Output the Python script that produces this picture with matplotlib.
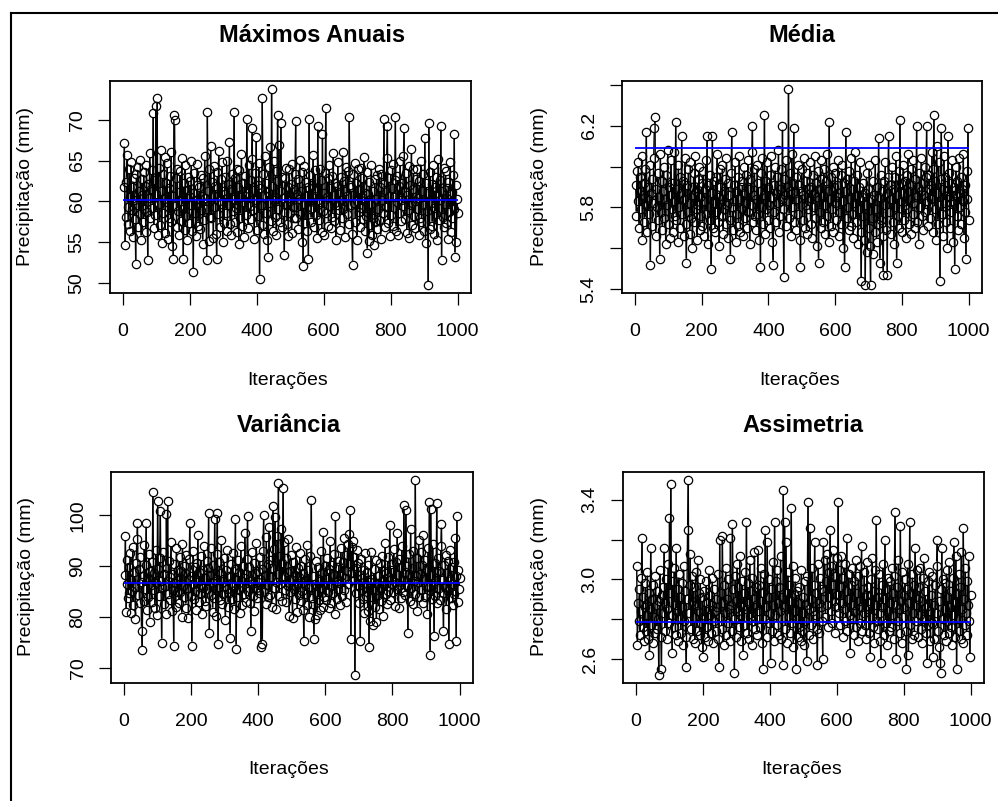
import numpy as np
import matplotlib
matplotlib.use('Agg')
import matplotlib.pyplot as plt
from matplotlib.lines import Line2D
from matplotlib.collections import LineCollection

plt.rcParams['font.family'] = ['Liberation Sans', 'DejaVu Sans']

# ---------------- data (one value every 2 iterations) ----------------
max_anuais = [
61.8, 67.2, 54.6, 58.1, 62.4, 65.7, 59.3, 57.2, 63.9, 60.5, 56.4, 64.8, 58.9, 61.7, 55.6, 62.9, 60.1, 57.8, 52.3, 63.4,
59.6, 64.2, 56.9, 61.3, 58.4, 65.1, 55.3, 60.8, 62.7, 57.5, 63.6, 59.0, 61.9, 56.2, 64.5, 58.7, 52.8, 62.1, 60.4, 65.9,
57.9, 61.5, 63.8, 59.2, 70.8, 56.7, 62.6, 58.3, 71.7, 60.9, 72.7, 55.8, 64.1, 59.7, 57.1, 66.3, 61.2, 54.9, 63.3, 58.6,
60.3, 65.4, 56.1, 62.2, 59.9, 64.7, 55.4, 61.6, 58.0, 63.1, 57.4, 66.0, 54.5, 60.7, 52.9, 70.6, 70.0, 59.4, 62.8, 56.8,
64.0, 58.8, 61.1, 55.9, 63.7, 60.0, 57.6, 65.3, 59.1, 52.9, 62.3, 56.5, 64.4, 58.2, 61.4, 55.2, 63.0, 60.6, 57.3, 62.5,
59.5, 64.9, 56.3, 61.0, 51.3, 63.5, 58.5, 60.2, 55.7, 62.0, 64.6, 57.0, 59.8, 61.8, 56.6, 63.2, 58.9, 60.7, 54.8, 62.9,
57.7, 65.6, 60.4, 59.0, 52.8, 70.9, 61.3, 55.1, 63.9, 58.1, 66.8, 57.9, 62.4, 60.8, 55.5, 64.3, 59.3, 61.9, 56.0, 52.9,
63.6, 58.4, 66.2, 60.0, 56.9, 62.7, 59.7, 64.8, 55.0, 61.2, 57.3, 63.0, 60.9, 58.6, 65.0, 56.4, 62.1, 59.6, 67.3, 57.2,
61.5, 55.8, 63.4, 58.8, 60.3, 70.9, 57.5, 62.9, 59.2, 64.0, 56.2, 61.7, 54.7, 63.8, 58.0, 60.5, 65.8, 57.0, 62.2, 59.9,
55.6, 63.1, 60.6, 58.3, 70.1, 61.0, 56.7, 64.5, 59.4, 62.6, 57.8, 65.2, 69.0, 58.9, 61.4, 55.4, 63.5, 60.1, 67.9, 56.5,
62.0, 58.2, 64.7, 50.5, 61.6, 59.5, 57.1, 72.7, 63.3, 56.0, 60.8, 65.5, 58.6, 62.3, 55.3, 61.1, 53.2, 64.2, 59.8, 66.6,
57.6, 73.8, 61.9, 56.3, 64.9, 60.2, 58.1, 63.7, 55.9, 62.5, 70.6, 59.1, 66.9, 57.4, 61.3, 69.6, 56.8, 63.0, 60.4, 58.7,
53.4, 62.8, 59.6, 64.1, 57.2, 61.8, 55.7, 63.9, 60.0, 58.5, 62.1, 56.1, 64.6, 59.3, 61.5, 57.9, 63.4, 69.9, 58.0, 60.9,
62.7, 56.6, 60.3, 65.1, 58.4, 61.2, 55.0, 63.6, 52.0, 59.7, 64.3, 57.3, 62.4, 60.6, 56.4, 61.7, 52.9, 70.1, 59.0, 63.2,
57.5, 62.0, 59.2, 65.7, 56.9, 60.7, 63.8, 58.3, 61.4, 55.5, 69.3, 60.1, 57.7, 64.0, 59.9, 62.6, 56.2, 68.3, 58.8, 61.0,
55.8, 63.5, 71.4, 58.6, 60.5, 62.9, 57.0, 64.4, 59.4, 61.6, 56.7, 63.1, 58.1, 65.9, 60.8, 57.6, 62.3, 55.2, 61.9, 59.6,
64.8, 58.9, 61.1, 56.5, 63.0, 60.2, 57.9, 66.1, 59.1, 62.5, 55.6, 61.3, 64.2, 58.4, 60.6, 63.7, 57.2, 70.3, 62.0, 59.5,
61.8, 56.0, 52.2, 63.3, 59.8, 64.7, 57.4, 62.2, 60.0, 55.3, 63.9, 58.7, 61.5, 56.8, 64.1, 59.2, 62.8, 57.8, 60.4, 65.4,
56.3, 61.0, 58.2, 63.6, 53.7, 60.9, 55.1, 62.4, 57.1, 59.7, 64.5, 55.9, 61.2, 58.0, 54.6, 62.7, 57.5, 60.3, 63.2, 56.6,
59.0, 64.0, 57.7, 61.7, 55.4, 63.4, 60.1, 58.5, 62.1, 70.1, 56.9, 61.4, 59.3, 65.3, 69.3, 57.3, 62.9, 60.7, 55.7, 63.8,
58.3, 61.6, 64.6, 57.0, 60.5, 62.6, 70.3, 56.4, 59.9, 63.1, 55.9, 61.9, 58.6, 64.9, 60.2, 57.6, 62.3, 59.4, 65.6, 69.0,
57.8, 61.1, 63.5, 56.1, 60.8, 58.9, 64.3, 55.5, 62.0, 59.6, 66.4, 57.1, 61.5, 63.9, 58.2, 60.0, 56.7, 62.7, 59.1, 64.0,
60.4, 55.8, 62.5, 58.0, 65.0, 57.4, 61.2, 63.3, 56.3, 59.5, 67.8, 54.9, 62.2, 58.8, 61.0, 49.7, 69.6, 56.6, 63.6, 59.8,
62.1, 57.0, 64.4, 59.2, 56.0, 61.8, 58.4, 63.0, 55.2, 60.6, 65.2, 57.7, 62.6, 60.1, 69.3, 52.8, 61.3, 58.1, 64.1, 56.8,
59.7, 63.7, 57.3, 61.6, 55.4, 62.4, 58.7, 60.9, 64.8, 56.2, 61.1, 57.9, 63.2, 59.0, 68.2, 53.2, 62.0, 55.0, 60.3, 58.5,
]

media = [
5.91, 5.76, 5.98, 5.83, 6.02, 5.70, 5.88, 5.95, 5.79, 6.05, 5.64, 5.86, 5.92, 5.73, 5.99, 5.81, 6.17, 5.68, 5.90, 5.84,
5.77, 6.01, 5.52, 5.87, 5.94, 5.71, 5.82, 6.04, 6.19, 6.24, 5.66, 5.89, 5.80, 5.97, 5.74, 5.85, 5.55, 6.06, 5.78, 5.93,
5.69, 5.88, 6.00, 5.75, 5.84, 5.62, 5.96, 5.81, 6.08, 5.72, 5.90, 5.65, 5.86, 6.03, 5.79, 5.92, 5.68, 5.83, 6.07, 5.76,
6.22, 5.74, 5.89, 5.63, 6.01, 5.80, 5.95, 5.70, 5.87, 6.15, 5.77, 5.93, 5.66, 5.84, 6.04, 5.72, 5.53, 5.91, 5.78, 5.99,
5.82, 5.67, 6.02, 5.75, 5.90, 5.60, 5.86, 5.97, 5.73, 6.05, 5.79, 5.88, 5.64, 5.94, 5.81, 6.00, 5.69, 5.85, 5.76, 5.92,
5.71, 5.98, 5.83, 5.66, 5.89, 6.03, 5.77, 6.15, 5.62, 5.91, 5.80, 5.74, 5.96, 5.50, 5.87, 6.15, 5.70, 5.93, 5.82, 5.68,
5.95, 5.78, 6.06, 5.73, 5.85, 5.61, 5.90, 5.99, 5.76, 5.84, 6.01, 5.67, 5.88, 5.79, 5.94, 5.72, 6.04, 5.81, 5.65, 5.92,
5.86, 5.74, 5.55, 5.97, 6.17, 5.80, 5.69, 5.91, 5.83, 6.02, 5.63, 5.88, 5.77, 5.95, 5.71, 6.05, 5.84, 5.68, 5.90, 5.79,
5.93, 5.66, 5.87, 6.00, 5.75, 5.82, 5.96, 5.70, 6.03, 5.78, 5.89, 5.62, 5.94, 5.81, 6.07, 6.20, 5.73, 5.86, 5.99, 5.76,
5.84, 5.69, 6.01, 5.77, 5.92, 5.64, 5.88, 5.51, 5.97, 5.80, 6.04, 5.72, 5.86, 6.25, 5.67, 5.93, 5.79, 6.02, 5.74, 5.90,
5.81, 5.96, 5.70, 6.05, 5.85, 5.63, 5.52, 5.91, 5.78, 6.00, 5.87, 5.73, 5.95, 5.82, 6.08, 5.68, 5.89, 5.76, 5.99, 5.84,
6.20, 5.79, 5.46, 5.94, 5.86, 6.03, 5.71, 5.90, 5.83, 6.38, 5.75, 5.97, 5.88, 5.66, 6.06, 5.80, 5.92, 6.19, 5.73, 5.87,
5.95, 5.69, 5.84, 6.01, 5.77, 5.91, 5.64, 5.51, 5.88, 5.99, 5.74, 5.86, 6.04, 5.70, 5.93, 5.81, 5.67, 5.97, 5.79, 5.89,
5.83, 6.02, 5.72, 5.90, 5.65, 5.96, 5.80, 5.87, 6.05, 5.75, 5.92, 5.61, 5.85, 5.98, 5.53, 5.89, 5.78, 6.03, 5.70, 5.94,
5.86, 5.73, 5.99, 5.81, 5.67, 5.93, 6.06, 5.76, 5.88, 5.63, 6.22, 5.84, 5.71, 5.95, 5.79, 6.00, 5.68, 5.90, 5.82, 5.97,
5.74, 5.91, 5.85, 6.03, 5.66, 5.87, 5.78, 5.96, 5.72, 6.01, 5.83, 5.60, 5.92, 5.51, 5.88, 6.17, 5.75, 5.94, 5.80, 5.69,
5.98, 5.84, 5.71, 6.04, 5.77, 5.89, 5.65, 5.93, 5.82, 6.07, 5.73, 5.86, 5.96, 5.62, 5.90, 5.79, 6.02, 5.68, 5.44, 5.85,
5.76, 5.92, 5.64, 5.87, 5.42, 5.81, 5.97, 5.58, 5.89, 5.70, 6.01, 5.61, 5.42, 5.84, 5.75, 5.93, 5.57, 5.86, 5.68, 6.03,
5.79, 5.63, 5.90, 5.72, 6.14, 5.85, 5.53, 5.96, 5.74, 5.88, 5.66, 5.47, 5.93, 5.81, 6.02, 5.69, 5.87, 5.47, 5.95, 6.15,
5.78, 5.91, 5.67, 5.84, 6.00, 5.73, 5.89, 5.62, 5.95, 5.80, 6.05, 5.53, 5.86, 5.76, 5.98, 5.70, 6.23, 5.83, 5.92, 5.68,
5.87, 6.01, 5.74, 5.93, 5.81, 5.65, 5.96, 5.79, 6.06, 5.72, 5.88, 5.84, 5.99, 5.67, 5.91, 5.77, 6.03, 5.82, 5.70, 5.94,
5.85, 6.20, 5.73, 5.90, 5.62, 5.97, 5.80, 5.88, 6.04, 5.76, 5.92, 5.69, 5.86, 6.00, 5.78, 5.95, 6.20, 5.83, 5.71, 5.89,
5.96, 5.75, 5.91, 5.84, 6.07, 5.68, 5.99, 6.25, 5.79, 5.93, 5.64, 6.10, 5.87, 5.72, 6.02, 5.81, 5.44, 5.94, 6.19, 5.77,
5.89, 5.66, 6.05, 5.82, 5.95, 5.73, 5.88, 5.60, 6.15, 5.85, 5.97, 5.70, 5.92, 5.78, 6.03, 5.83, 5.63, 5.90, 5.50, 5.86,
6.00, 5.76, 5.93, 5.69, 5.87, 6.04, 5.80, 5.95, 5.72, 5.89, 5.83, 6.06, 5.65, 5.91, 5.78, 5.55, 5.98, 5.84, 6.19, 5.74,
]

variancia = [
88.2, 95.9, 81.0, 86.5, 91.3, 83.7, 89.9, 84.8, 92.6, 80.9, 87.4, 85.1, 93.8, 82.3, 88.9, 86.0, 79.6, 90.7, 95.4, 98.6,
84.4, 89.5, 82.8, 91.9, 86.9, 77.3, 73.5, 88.0, 83.2, 94.1, 85.6, 90.2, 98.6, 81.5, 87.8, 84.0, 92.4, 79.1, 89.1, 86.3,
83.0, 90.8, 104.6, 85.4, 88.6, 81.8, 93.2, 86.7, 80.4, 102.8, 89.4, 84.2, 91.6, 100.8, 87.1, 75.0, 85.9, 92.9, 82.5, 88.4,
86.1, 80.7, 100.3, 89.7, 102.8, 84.6, 91.0, 83.4, 87.9, 94.7, 81.2, 88.5, 85.3, 74.4, 90.4, 86.8, 82.0, 93.5, 84.9, 89.2,
87.3, 82.7, 91.8, 85.0, 89.0, 80.1, 94.4, 86.2, 83.9, 90.1, 88.7, 81.9, 92.2, 85.7, 87.6, 79.8, 91.4, 98.6, 84.1, 88.1,
74.4, 86.6, 93.0, 83.6, 89.8, 85.2, 81.4, 90.6, 87.0, 96.2, 82.9, 88.8, 84.7, 92.0, 86.4, 80.6, 89.3, 85.8, 94.0, 83.1,
87.7, 82.2, 91.1, 85.5, 89.6, 100.5, 76.8, 88.3, 84.3, 93.6, 86.9, 81.1, 90.3, 83.8, 99.3, 87.2, 80.3, 92.5, 100.5, 74.7,
85.9, 90.9, 83.3, 88.7, 95.1, 82.6, 87.5, 84.5, 91.7, 86.1, 79.4, 89.2, 85.6, 93.3, 82.1, 88.0, 84.8, 76.0, 90.5, 86.7,
83.5, 92.7, 86.4, 81.7, 89.4, 99.3, 73.8, 87.3, 84.0, 91.2, 85.4, 88.9, 80.8, 93.9, 86.0, 82.4, 90.0, 87.8, 84.6, 96.6,
88.4, 83.0, 91.5, 99.9, 85.2, 89.9, 82.8, 87.1, 77.3, 92.8, 86.5, 84.2, 90.7, 81.3, 88.6, 85.7, 94.5, 83.7, 89.0, 86.9,
84.7, 91.9, 87.6, 74.2, 89.5, 74.8, 93.1, 100.1, 85.0, 88.2, 82.5, 95.7, 86.3, 90.4, 83.9, 97.8, 84.4, 91.3, 87.9, 82.0,
89.6, 101.8, 85.8, 93.4, 99.6, 87.0, 81.6, 96.0, 88.5, 106.4, 84.1, 92.1, 86.6, 97.3, 83.2, 90.6, 105.3, 88.0, 94.8, 85.3,
91.6, 82.9, 88.8, 86.2, 95.3, 80.2, 89.1, 84.9, 92.3, 87.4, 79.9, 90.8, 85.5, 88.3, 83.6, 93.7, 86.8, 81.0, 89.7, 84.3,
87.9, 92.6, 83.1, 90.0, 85.1, 88.6, 81.5, 75.3, 91.4, 86.3, 84.5, 94.2, 82.3, 89.3, 86.0, 80.0, 92.0, 85.9, 103.1, 83.8,
88.1, 82.6, 75.8, 86.6, 79.7, 91.1, 84.6, 80.5, 89.8, 83.3, 87.2, 81.4, 93.0, 85.7, 88.9, 82.1, 96.8, 84.0, 90.1, 86.4,
83.4, 91.7, 87.5, 85.0, 89.4, 81.8, 94.9, 86.1, 82.7, 90.3, 88.4, 84.8, 92.4, 80.7, 99.9, 87.0, 83.5, 89.9, 85.6, 91.0,
86.8, 82.4, 93.5, 88.0, 84.2, 90.9, 85.3, 95.6, 87.7, 83.0, 92.2, 89.1, 94.3, 86.5, 96.4, 90.5, 101.1, 75.7, 93.8, 88.6,
95.0, 87.3, 91.9, 68.6, 89.6, 84.7, 93.2, 86.2, 90.7, 82.8, 88.3, 75.3, 91.5, 85.4, 87.8, 83.6, 89.2, 80.9, 92.7, 86.0,
84.1, 88.8, 81.2, 90.2, 74.1, 86.9, 79.3, 92.9, 83.9, 87.6, 78.5, 89.5, 85.2, 82.0, 91.3, 79.0, 86.7, 84.4, 88.1, 81.7,
90.6, 85.8, 83.1, 92.1, 87.2, 80.3, 89.0, 86.3, 94.6, 84.6, 88.7, 82.5, 91.8, 85.1, 87.9, 98.2, 83.4, 90.4, 86.6, 89.3,
84.9, 93.4, 87.0, 82.2, 90.8, 85.6, 96.5, 88.2, 81.9, 91.4, 86.4, 89.8, 83.7, 94.0, 87.4, 85.0, 102.1, 88.9, 84.3, 101.1,
90.0, 86.1, 76.8, 92.5, 88.4, 83.2, 97.4, 85.7, 89.7, 82.6, 93.1, 87.1, 84.5, 107.0, 88.0, 91.6, 81.3, 86.9, 95.2, 83.9,
88.5, 92.8, 85.4, 90.3, 82.7, 96.1, 87.6, 84.0, 91.2, 86.2, 89.4, 80.6, 93.6, 85.9, 102.7, 72.6, 101.2, 88.3, 83.5, 94.3,
86.4, 76.3, 90.6, 84.2, 88.8, 102.4, 82.8, 91.7, 85.8, 89.1, 83.3, 93.9, 98.4, 87.3, 84.7, 77.3, 90.2, 86.0, 92.3, 81.6,
88.7, 85.2, 91.0, 74.7, 87.5, 93.2, 83.8, 89.9, 86.5, 82.3, 90.9, 84.6, 95.5, 88.0, 75.3, 99.9, 83.0, 89.2, 85.5, 87.7,
]

assimetria = [
3.07, 2.67, 2.88, 2.79, 2.95, 2.72, 2.84, 3.01, 3.21, 2.76, 2.91, 2.69, 2.86, 2.98, 2.74, 2.82, 3.04, 2.70, 2.93, 2.62,
2.85, 3.16, 2.77, 2.90, 2.68, 2.97, 2.81, 2.73, 3.02, 2.87, 2.75, 2.94, 2.80, 2.52, 2.89, 3.05, 2.71, 2.55, 2.92, 2.83,
2.96, 3.16, 2.74, 2.88, 3.00, 2.70, 2.85, 3.08, 2.78, 3.31, 2.93, 3.48, 2.82, 2.63, 2.99, 2.76, 3.06, 2.87, 2.72, 3.16,
2.84, 2.95, 2.69, 3.03, 2.80, 2.91, 2.73, 2.98, 2.86, 2.67, 3.07, 2.79, 2.94, 2.71, 2.56, 2.90, 3.25, 3.50, 2.83, 2.97,
3.13, 2.75, 2.89, 3.02, 2.70, 2.96, 2.81, 2.68, 3.04, 2.87, 2.74, 3.10, 2.84, 2.93, 2.72, 3.00, 2.78, 2.66, 2.91, 2.61,
2.80, 2.94, 2.71, 2.88, 2.99, 2.76, 2.85, 2.69, 3.05, 2.82, 2.92, 2.73, 2.87, 3.01, 2.68, 2.79, 2.95, 2.84, 2.74, 2.90,
2.86, 3.03, 2.70, 2.56, 3.20, 2.81, 2.93, 2.75, 3.22, 2.88, 2.67, 2.97, 2.83, 3.06, 2.72, 2.90, 2.78, 3.00, 2.85, 2.69,
3.21, 2.87, 2.74, 3.28, 2.95, 2.80, 2.53, 3.02, 2.89, 2.71, 3.08, 2.84, 2.96, 2.76, 3.12, 2.82, 2.69, 2.99, 2.86, 2.62,
2.93, 2.77, 3.04, 2.85, 3.29, 2.73, 2.98, 2.88, 2.70, 3.10, 2.81, 2.94, 2.67, 3.01, 2.79, 2.90, 3.14, 2.75, 2.87, 2.96,
2.72, 3.15, 2.84, 2.97, 2.76, 3.06, 2.89, 2.68, 2.93, 2.55, 3.03, 2.80, 3.25, 2.86, 2.71, 3.19, 2.91, 2.78, 3.00, 2.83,
2.58, 2.95, 2.74, 3.09, 2.87, 2.69, 3.29, 2.82, 2.99, 2.77, 3.05, 2.88, 2.72, 2.96, 2.84, 3.12, 2.70, 2.91, 2.57, 3.45,
2.86, 3.29, 2.75, 3.19, 2.93, 2.68, 3.04, 2.81, 2.97, 2.73, 2.89, 3.36, 2.78, 3.07, 2.66, 2.92, 2.84, 3.01, 2.55, 2.94,
2.80, 2.71, 2.96, 2.76, 2.88, 2.69, 3.05, 2.74, 2.91, 2.83, 2.67, 2.99, 2.79, 2.87, 2.59, 3.02, 3.39, 2.85, 2.72, 3.26,
2.90, 2.77, 3.06, 2.84, 2.70, 2.97, 3.19, 2.82, 2.93, 2.75, 2.57, 3.08, 2.88, 2.73, 3.01, 2.86, 2.95, 2.79, 2.60, 3.19,
2.94, 3.10, 2.81, 2.99, 2.87, 3.13, 2.76, 3.04, 2.91, 3.25, 2.84, 3.07, 2.78, 2.97, 3.15, 2.89, 2.73, 3.02, 2.86, 3.11,
2.92, 3.39, 2.83, 3.05, 2.77, 2.96, 3.12, 2.88, 2.71, 3.01, 2.85, 3.08, 2.79, 2.94, 3.21, 2.74, 2.90, 3.03, 2.82, 2.63,
2.97, 2.80, 3.06, 2.87, 2.72, 2.99, 2.84, 3.10, 2.76, 2.93, 2.69, 3.02, 2.89, 2.78, 3.07, 2.86, 3.17, 2.74, 2.95, 2.83,
3.04, 2.77, 2.92, 2.70, 3.09, 2.85, 2.96, 2.73, 2.88, 2.61, 3.00, 2.81, 3.11, 2.76, 2.94, 2.68, 3.05, 2.87, 3.30, 2.79,
2.91, 2.75, 3.03, 2.83, 2.69, 2.58, 2.97, 2.86, 3.08, 2.72, 2.90, 3.20, 2.78, 2.95, 2.67, 3.01, 2.84, 2.74, 2.99, 2.88,
2.76, 3.06, 2.82, 2.93, 2.70, 3.02, 3.34, 2.87, 2.60, 2.96, 2.79, 3.10, 2.85, 2.73, 3.27, 2.89, 2.68, 3.04, 2.81, 2.92,
2.86, 3.00, 2.74, 2.55, 2.95, 3.08, 2.62, 2.88, 3.29, 2.77, 2.93, 2.70, 3.03, 2.83, 2.97, 2.72, 3.16, 2.87, 2.79, 3.05,
2.90, 2.71, 2.96, 2.82, 3.06, 2.75, 2.89, 2.68, 3.01, 3.11, 2.80, 2.94, 2.73, 2.86, 2.58, 2.99, 2.77, 3.04, 2.84, 2.69,
2.92, 2.78, 3.02, 2.61, 2.87, 2.70, 2.97, 2.83, 3.07, 3.20, 2.74, 2.89, 2.66, 2.58, 2.53, 2.95, 3.16, 2.80, 3.00, 2.72,
2.85, 2.98, 2.69, 3.05, 2.79, 2.91, 2.73, 3.09, 2.86, 2.76, 2.94, 2.67, 3.01, 2.82, 3.19, 2.88, 2.71, 3.12, 2.55, 2.93,
2.80, 3.03, 2.74, 2.96, 2.70, 3.14, 2.85, 2.68, 3.26, 2.90, 2.77, 3.06, 2.83, 2.72, 2.99, 2.87, 3.12, 2.79, 2.61, 2.92,
]

# observed reference values (blue lines)
ref_max_anuais = 60.1
ref_media = 6.09
ref_variancia = 86.7
ref_assimetria = 2.785

titles = ["Máximos Anuais", "Média", "Variância", "Assimetria"]
xlabel_text = "Iterações"
ylabel_text = "Precipitação (mm)"

x_ticks = [0, 200, 400, 600, 800, 1000]
x_tick_labels = ["0", "200", "400", "600", "800", "1000"]

y_ticks_list = [
    [50, 55, 60, 65, 70],
    [5.4, 5.6, 5.8, 6.0, 6.2, 6.4],
    [70, 80, 90, 100],
    [2.6, 2.8, 3.0, 3.2, 3.4],
]
y_labels_list = [
    ["50", "55", "60", "65", "70"],
    ["5.4", "", "5.8", "", "6.2", ""],
    ["70", "80", "90", "100"],
    ["2.6", "", "3.0", "", "3.4"],
]

series = [max_anuais, media, variancia, assimetria]
refs = [ref_max_anuais, ref_media, ref_variancia, ref_assimetria]
n_iter = 1000

# ---------------- layout (pixels) ----------------
W, H = 998, 801
DPI = 100
fig = plt.figure(figsize=(W / DPI, H / DPI), dpi=DPI)
fig.patch.set_facecolor('white')

boxes = [(110, 81, 471, 293), (622, 81, 982, 293),
         (111, 472, 473, 683), (623, 472, 984, 683)]
title_pos = [(312, 35), (802, 35), (289, 426), (803, 426)]
ylabel_pos = [(26, 187), (540, 187), (27, 577), (540, 577)]
xlabel_pos = [(288, 380), (800, 380), (289, 770), (802, 770)]

MS = 6.0             # marker diameter in points
GAP = MS / 2 * DPI / 72.0   # R type="b": segments stop at the circle edge (pixels)

def fx(px):
    return px / W

def fy(py):
    return 1 - py / H

for i in range(4):
    l, t, r, b = boxes[i]
    ax = fig.add_axes([fx(l), fy(b), (r - l) / W, (b - t) / H])
    vals = np.array(series[i], dtype=float)
    iters = 2 * np.arange(1, len(vals) + 1)

    ax.set_xlim(1 - 0.04 * (n_iter - 1), n_iter + 0.04 * (n_iter - 1))
    lo, hi = vals.min(), vals.max()
    rng = hi - lo
    ax.set_ylim(lo - 0.04 * rng, hi + 0.04 * rng)

    # connecting segments with gaps around the points (like R type = "b")
    disp = ax.transData.transform(np.column_stack([iters, vals]))
    p1, p2 = disp[:-1], disp[1:]
    d = p2 - p1
    L = np.hypot(d[:, 0], d[:, 1])
    keep = L > 2 * GAP
    u = d[keep] / L[keep][:, None]
    s_pts = p1[keep] + u * GAP
    e_pts = p2[keep] - u * GAP
    inv = ax.transData.inverted()
    s_dat = inv.transform(s_pts)
    e_dat = inv.transform(e_pts)
    segs = np.stack([s_dat, e_dat], axis=1)
    ax.add_collection(LineCollection(segs, colors='black', linewidths=1.0, zorder=2))

    ax.plot(iters, vals, linestyle='none', marker='o', ms=MS,
            mfc='none', mec='black', mew=0.9, zorder=2)
    ax.hlines(refs[i], 1, n_iter, colors='#0000FF', lw=1.3, zorder=3)

    ax.set_xticks(x_ticks)
    ax.set_xticklabels(x_tick_labels)
    ax.set_yticks(y_ticks_list[i])
    ax.set_yticklabels(y_labels_list[i], rotation=90, va='center')
    ax.tick_params(axis='both', length=8.6, width=0.9, labelsize=14,
                   color='black', labelcolor='black')
    ax.tick_params(axis='x', pad=13)
    ax.tick_params(axis='y', pad=9)
    for s in ax.spines.values():
        s.set_linewidth(1.3)
        s.set_color('black')

    tx, ty = title_pos[i]
    fig.text(fx(tx), fy(ty), titles[i], ha='center', va='center',
             fontsize=17, fontweight='bold')
    yx, yy = ylabel_pos[i]
    fig.text(fx(yx), fy(yy), ylabel_text, ha='center', va='center',
             rotation=90, fontsize=14)
    xx, xy = xlabel_pos[i]
    fig.text(fx(xx), fy(xy), xlabel_text, ha='center', va='center',
             fontsize=14)

# outer frame (top and left edges visible)
fig.add_artist(Line2D([fx(11), fx(W)], [fy(13), fy(13)], transform=fig.transFigure,
                      color='black', lw=1.5))
fig.add_artist(Line2D([fx(11), fx(11)], [fy(13), fy(H)], transform=fig.transFigure,
                      color='black', lw=1.5))

fig.savefig('out.png', dpi=DPI)
